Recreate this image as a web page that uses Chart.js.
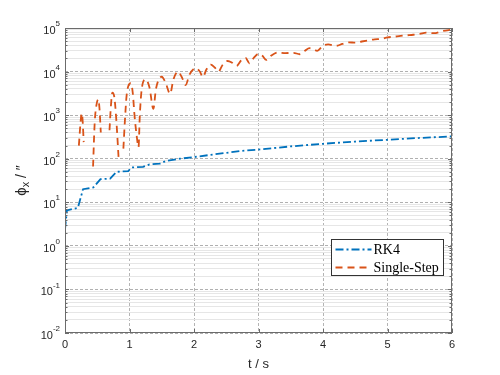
<!DOCTYPE html>
<html>
<head>
<meta charset="utf-8">
<script src="https://cdn.jsdelivr.net/npm/chart.js@4.4.0/dist/chart.umd.min.js"></script>
<style>
  html, body { margin: 0; padding: 0; background: #fff; }
</style>
</head>
<body>
<canvas id="chart" width="500" height="375"></canvas>
<script>
// values
const rk4Time = [0, 0.03, 0.20, 0.28, 0.44, 0.55, 0.70, 0.80, 0.98, 1.03, 1.21, 1.31, 1.47, 1.57, 1.78, 2.0, 2.3, 2.71, 3.0, 3.5, 4.0, 4.5, 5.0, 5.5, 6.0];
const rk4Phi = [2.4, 6.5, 7.5, 20, 22, 34, 35, 50, 52, 63, 65, 74, 77, 89, 100, 109, 125, 150, 162, 192, 220, 248, 272, 300, 325];

// null = zero error, not shown on the log axis
const stepTime = [0.215, 0.24, 0.258, 0.272, 0.29, 0.30,
  0.435, 0.46, 0.49, 0.515, 0.535, 0.555, 0.60,
  0.69, 0.71, 0.735, 0.765, 0.795, 0.83, 0.86,
  0.905, 0.93, 0.955, 0.99, 1.02, 1.05, 1.08, 1.11, 1.14,
  1.16, 1.19, 1.25, 1.31, 1.37, 1.41, 1.50, 1.56, 1.63, 1.68, 1.75, 1.81, 1.87, 1.93,
  2.03, 2.09, 2.14, 2.19, 2.26, 2.32, 2.38, 2.44, 2.52, 2.59, 2.66, 2.73, 2.80, 2.86, 2.93,
  3.0, 3.06, 3.12, 3.2, 3.3, 3.42, 3.54, 3.64, 3.72, 3.79, 3.85, 3.91,
  4.0, 4.08, 4.2, 4.3, 4.4, 4.5, 4.6, 4.7, 4.8, 4.9,
  5.0, 5.1, 5.2, 5.3, 5.4, 5.5, 5.6, 5.72, 5.85, 6.0];
const stepPhi = [200, 650, 1100, 800, 240, null,
  66, 650, 1800, 2300, 1400, 400, null,
  450, 1500, 3300, 2600, 800, 110, null,
  170, 800, 2800, 5000, 5400, 3300, 900, 350, 185,
  1000, 4000, 6600, 4300, 1400, 4000, 7600, 5500, 3100, 6500, 10000, 7500, 4900, 8500,
  12000, 10000, 7500, 11000, 14500, 12500, 10000, 14000, 17500, 16000, 13500, 18000, 20500, 15500, 21000,
  25500, 23000, 18500, 23500, 27500, 26500, 27000, 25000, 30000, 34500, 32500, 30000,
  39000, 42000, 39000, 43000, 47000, 46000, 49000, 52000, 55000, 56000,
  61000, 63000, 66000, 68000, 70000, 73000, 78000, 76000, 85000, 92000];

const seriesNames = ['RK4', 'Single-Step'];
const seriesColors = ['#0072BD', '#D95319'];
const xTicks = [0, 1, 2, 3, 4, 5, 6];
const yDecades = [-2, -1, 0, 1, 2, 3, 4, 5];

const sans = "'Liberation Sans', Arial, sans-serif";
const serif = "'Liberation Serif', 'Times New Roman', serif";
const ink = '#262626';

const toPoints = (xs, ys) => xs.map((x, i) => ({ x: x, y: ys[i] }));

// box, inner ticks, y tick labels, y title and legend
const framePlugin = {
  id: 'frame',
  afterDatasetsDraw(chart) {
    const ctx = chart.ctx;
    const a = chart.chartArea;
    const xs = chart.scales.x;
    const ys = chart.scales.y;
    ctx.save();

    ctx.strokeStyle = '#6b6b6b';
    ctx.lineWidth = 1;
    ctx.setLineDash([]);
    ctx.strokeRect(a.left + 0.5, a.top + 0.5, a.right - a.left - 1, a.bottom - a.top - 1);

    ctx.beginPath();
    ys.ticks.forEach(t => {
      const y = Math.round(ys.getPixelForValue(t.value)) + 0.5;
      const len = t.major ? 4 : 2.5;
      ctx.moveTo(a.left, y); ctx.lineTo(a.left + len, y);
      ctx.moveTo(a.right, y); ctx.lineTo(a.right - len, y);
    });
    xs.ticks.forEach(t => {
      const x = Math.round(xs.getPixelForValue(t.value)) + 0.5;
      ctx.moveTo(x, a.bottom); ctx.lineTo(x, a.bottom - 4);
      ctx.moveTo(x, a.top); ctx.lineTo(x, a.top + 4);
    });
    ctx.stroke();

    // 10^n labels
    ctx.fillStyle = ink;
    ctx.textBaseline = 'middle';
    yDecades.forEach(e => {
      const y = ys.getPixelForValue(Math.pow(10, e));
      const exp = String(e);
      ctx.font = '8px ' + sans;
      const ew = ctx.measureText(exp).width;
      ctx.textAlign = 'left';
      ctx.fillText(exp, 60 - ew, y - 4);
      ctx.font = '11px ' + sans;
      ctx.textAlign = 'right';
      ctx.fillText('10', 60 - ew, y + 3);
    });

    // y title: phi_x / ″
    ctx.translate(22, (a.top + a.bottom) / 2);
    ctx.rotate(-Math.PI / 2);
    ctx.textAlign = 'left';
    ctx.font = '15px ' + sans;
    const w1 = ctx.measureText('\u03D5').width;
    ctx.font = '14px ' + sans;
    const w3 = ctx.measureText(' / \u2033').width;
    ctx.font = '11px ' + sans;
    const w2 = ctx.measureText('x').width;
    let px = -(w1 + w2 + w3) / 2;
    ctx.font = '15px ' + sans;
    ctx.fillText('\u03D5', px, 0);
    px += w1;
    ctx.font = '11px ' + sans;
    ctx.fillText('x', px, 4);
    px += w2;
    ctx.font = '14px ' + sans;
    ctx.fillText(' / \u2033', px, 0);
    ctx.restore();

    // legend
    ctx.save();
    const bx = 331.5, by = 239.5, bw = 112, bh = 36;
    ctx.fillStyle = '#fff';
    ctx.fillRect(bx, by, bw, bh);
    ctx.strokeStyle = '#333';
    ctx.lineWidth = 1;
    ctx.strokeRect(bx, by, bw, bh);
    chart.data.datasets.forEach((ds, i) => {
      const y = by + 10 + i * 18;
      ctx.strokeStyle = ds.borderColor;
      ctx.lineWidth = ds.borderWidth;
      ctx.setLineDash(ds.borderDash);
      ctx.beginPath();
      ctx.moveTo(bx + 4, y);
      ctx.lineTo(bx + 40, y);
      ctx.stroke();
      ctx.setLineDash([]);
      ctx.fillStyle = '#000';
      ctx.font = '14px ' + serif;
      ctx.textAlign = 'left';
      ctx.textBaseline = 'middle';
      ctx.fillText(ds.label, bx + 42, y + 0.5);
    });
    ctx.restore();
  }
};

new Chart(document.getElementById('chart'), {
  type: 'line',
  data: {
    datasets: [
      {
        label: seriesNames[0],
        data: toPoints(rk4Time, rk4Phi),
        borderColor: seriesColors[0],
        borderWidth: 1.8,
        borderDash: [8, 3, 2, 3],
        pointRadius: 0,
        tension: 0
      },
      {
        label: seriesNames[1],
        data: toPoints(stepTime, stepPhi),
        borderColor: seriesColors[1],
        borderWidth: 1.8,
        borderDash: [7, 5],
        pointRadius: 0,
        cubicInterpolationMode: 'monotone',
        spanGaps: false
      }
    ]
  },
  options: {
    responsive: false,
    animation: false,
    layout: { padding: { left: 0, top: 28, right: 48, bottom: 0 } },
    plugins: {
      legend: { display: false },
      tooltip: { enabled: false }
    },
    scales: {
      x: {
        type: 'linear',
        min: 0,
        max: 6,
        afterBuildTicks: s => { s.ticks = xTicks.map(v => ({ value: v })); },
        afterFit: s => { s.height = 42; },
        ticks: { color: ink, font: { family: sans, size: 11 }, padding: 5, maxRotation: 0 },
        grid: { color: '#b4b4b4', drawTicks: false },
        border: { display: false, dash: [3, 2] },
        title: {
          display: true,
          text: 't / s',
          color: ink,
          font: { family: sans, size: 13 },
          padding: { top: 0, bottom: 3 }
        }
      },
      y: {
        type: 'logarithmic',
        min: 1e-2,
        max: 1e5,
        afterBuildTicks: s => {
          const t = [];
          yDecades.forEach(e => {
            for (let m = 1; m <= 9; m++) {
              if (e === 5 && m > 1) break;
              t.push({ value: m * Math.pow(10, e), major: m === 1 });
            }
          });
          s.ticks = t;
        },
        afterFit: s => { s.width = 65; },
        ticks: { display: false },
        grid: {
          color: c => (c.tick && c.tick.major ? '#b0b0b0' : '#e6e6e6'),
          drawTicks: false
        },
        border: { display: false, dash: c => (c.tick && c.tick.major ? [3, 2] : []) }
      }
    }
  },
  plugins: [framePlugin]
});
</script>
</body>
</html>
